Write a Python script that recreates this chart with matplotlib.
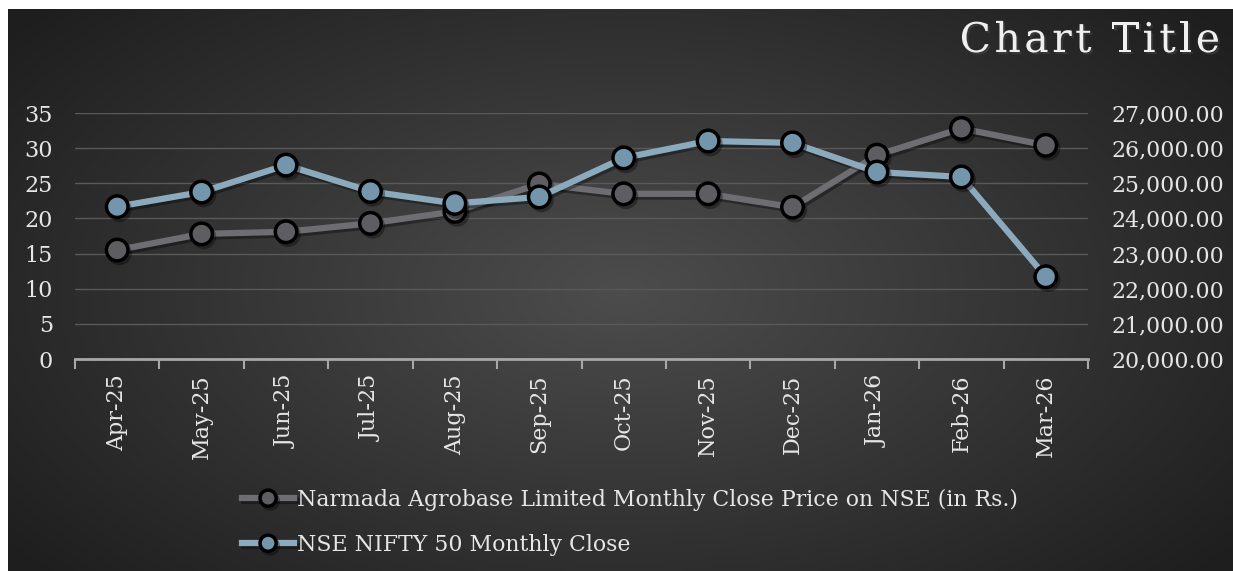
import numpy as np
import matplotlib.pyplot as plt
import matplotlib.patheffects as pe
from matplotlib.ticker import FixedLocator, FuncFormatter

months = ['Apr-25', 'May-25', 'Jun-25', 'Jul-25', 'Aug-25', 'Sep-25',
          'Oct-25', 'Nov-25', 'Dec-25', 'Jan-26', 'Feb-26', 'Mar-26']
narmada = [15.5, 17.8, 18.1, 19.3, 21.0, 24.9, 23.5, 23.5, 21.6, 29.0, 32.8, 30.4]
nifty = [24334, 24751, 25517, 24768, 24427, 24611, 25722, 26203, 26150, 25320, 25180, 22340]

label_a = 'Narmada Agrobase Limited Monthly Close Price on NSE (in Rs.)'
label_b = 'NSE NIFTY 50 Monthly Close'
title = 'Chart Title'

plt.rcParams['font.family'] = ['DejaVu Serif']
txt = '#e6e6e6'

fig = plt.figure(figsize=(12.33, 5.71), dpi=100)
fig.patch.set_facecolor('white')

# dark radial gradient background
W, H = 1233, 571
bx0 = 8 / W
bg = fig.add_axes([bx0, 0, 1 - bx0, (H - 9) / H])
yy, xx = np.mgrid[0:200, 0:400]
r = np.sqrt(((xx - 200) / 210) ** 2 + ((yy - 100) / 125) ** 2)
shade = 0.30 - 0.15 * np.clip(r, 0, 1.2)
bg.imshow(np.dstack([shade] * 3), aspect='auto', extent=[0, 1, 0, 1])
bg.axis('off')

ax = fig.add_axes([75 / W, 212 / H, (1088 - 75) / W, (359 - 113) / H])
ax.set_facecolor('none')
ax2 = ax.twinx()
ax2.set_facecolor('none')

x = np.arange(len(months))
shadow = [pe.SimpleLineShadow(offset=(1.5, -2), shadow_color='black', alpha=0.35), pe.Normal()]

la, = ax.plot(x, narmada, color='#6e6d72', lw=4.5, marker='o', ms=15.5,
              mfc='#5e5d62', mec='black', mew=2.5, zorder=3, path_effects=shadow)
lb, = ax2.plot(x, nifty, color='#8caabe', lw=4.5, marker='o', ms=15.5,
               mfc='#7396ad', mec='black', mew=2.5, zorder=3, path_effects=shadow)

ax.set_xlim(-0.5, len(months) - 0.5)
ax.set_ylim(0, 35)
ax2.set_ylim(20000, 27000)
ax.set_yticks(range(0, 36, 5))
ax2.set_yticks(range(20000, 27001, 1000))
ax2.yaxis.set_major_formatter(FuncFormatter(lambda v, p: f'{v:,.2f}'))

ax.grid(axis='y', color='#595959', lw=1)
ax.set_axisbelow(True)

ax.set_xticks(x)
ax.set_xticklabels(months, rotation=90, color=txt, fontsize=16)
ax.xaxis.set_minor_locator(FixedLocator(np.arange(-0.5, len(months), 1)))
ax.tick_params(axis='x', which='major', length=0, pad=11)
ax.tick_params(axis='x', which='minor', length=7, width=1.5, color='#a8a8a8')
ax.tick_params(axis='y', length=0, labelsize=16, labelcolor=txt, pad=16)
ax2.tick_params(axis='y', length=0, labelsize=15.8, labelcolor=txt, pad=17)

for a in (ax, ax2):
    for s in a.spines.values():
        s.set_visible(False)
ax.spines['bottom'].set_visible(True)
ax.spines['bottom'].set_color('#a8a8a8')
ax.spines['bottom'].set_linewidth(2)

# title with letter spacing, right aligned
renderer = fig.canvas.get_renderer()
tracking = 3.5
xr = 1220
title_fx = [pe.withSimplePatchShadow(offset=(1.5, -1.5), alpha=0.5)]
for ch in reversed(title):
    t = fig.text(xr / W, 1 - 41 / H, ch, ha='right', va='center', fontsize=29.5,
                 color='#f0f0f0', path_effects=title_fx)
    if ch == ' ':
        w = 0.32 * 29.5 * 100 / 72
    else:
        w = t.get_window_extent(renderer).width
    xr -= w + tracking

leg = fig.legend([la, lb], [label_a, label_b], loc='upper left',
                 bbox_to_anchor=(222 / W, 1 - 469 / H), frameon=False, ncol=1,
                 fontsize=15.8, labelcolor=txt, handlelength=2.4, handletextpad=0.1,
                 labelspacing=1.05, markerscale=0.75)

fig.savefig('out.png', dpi=100)
